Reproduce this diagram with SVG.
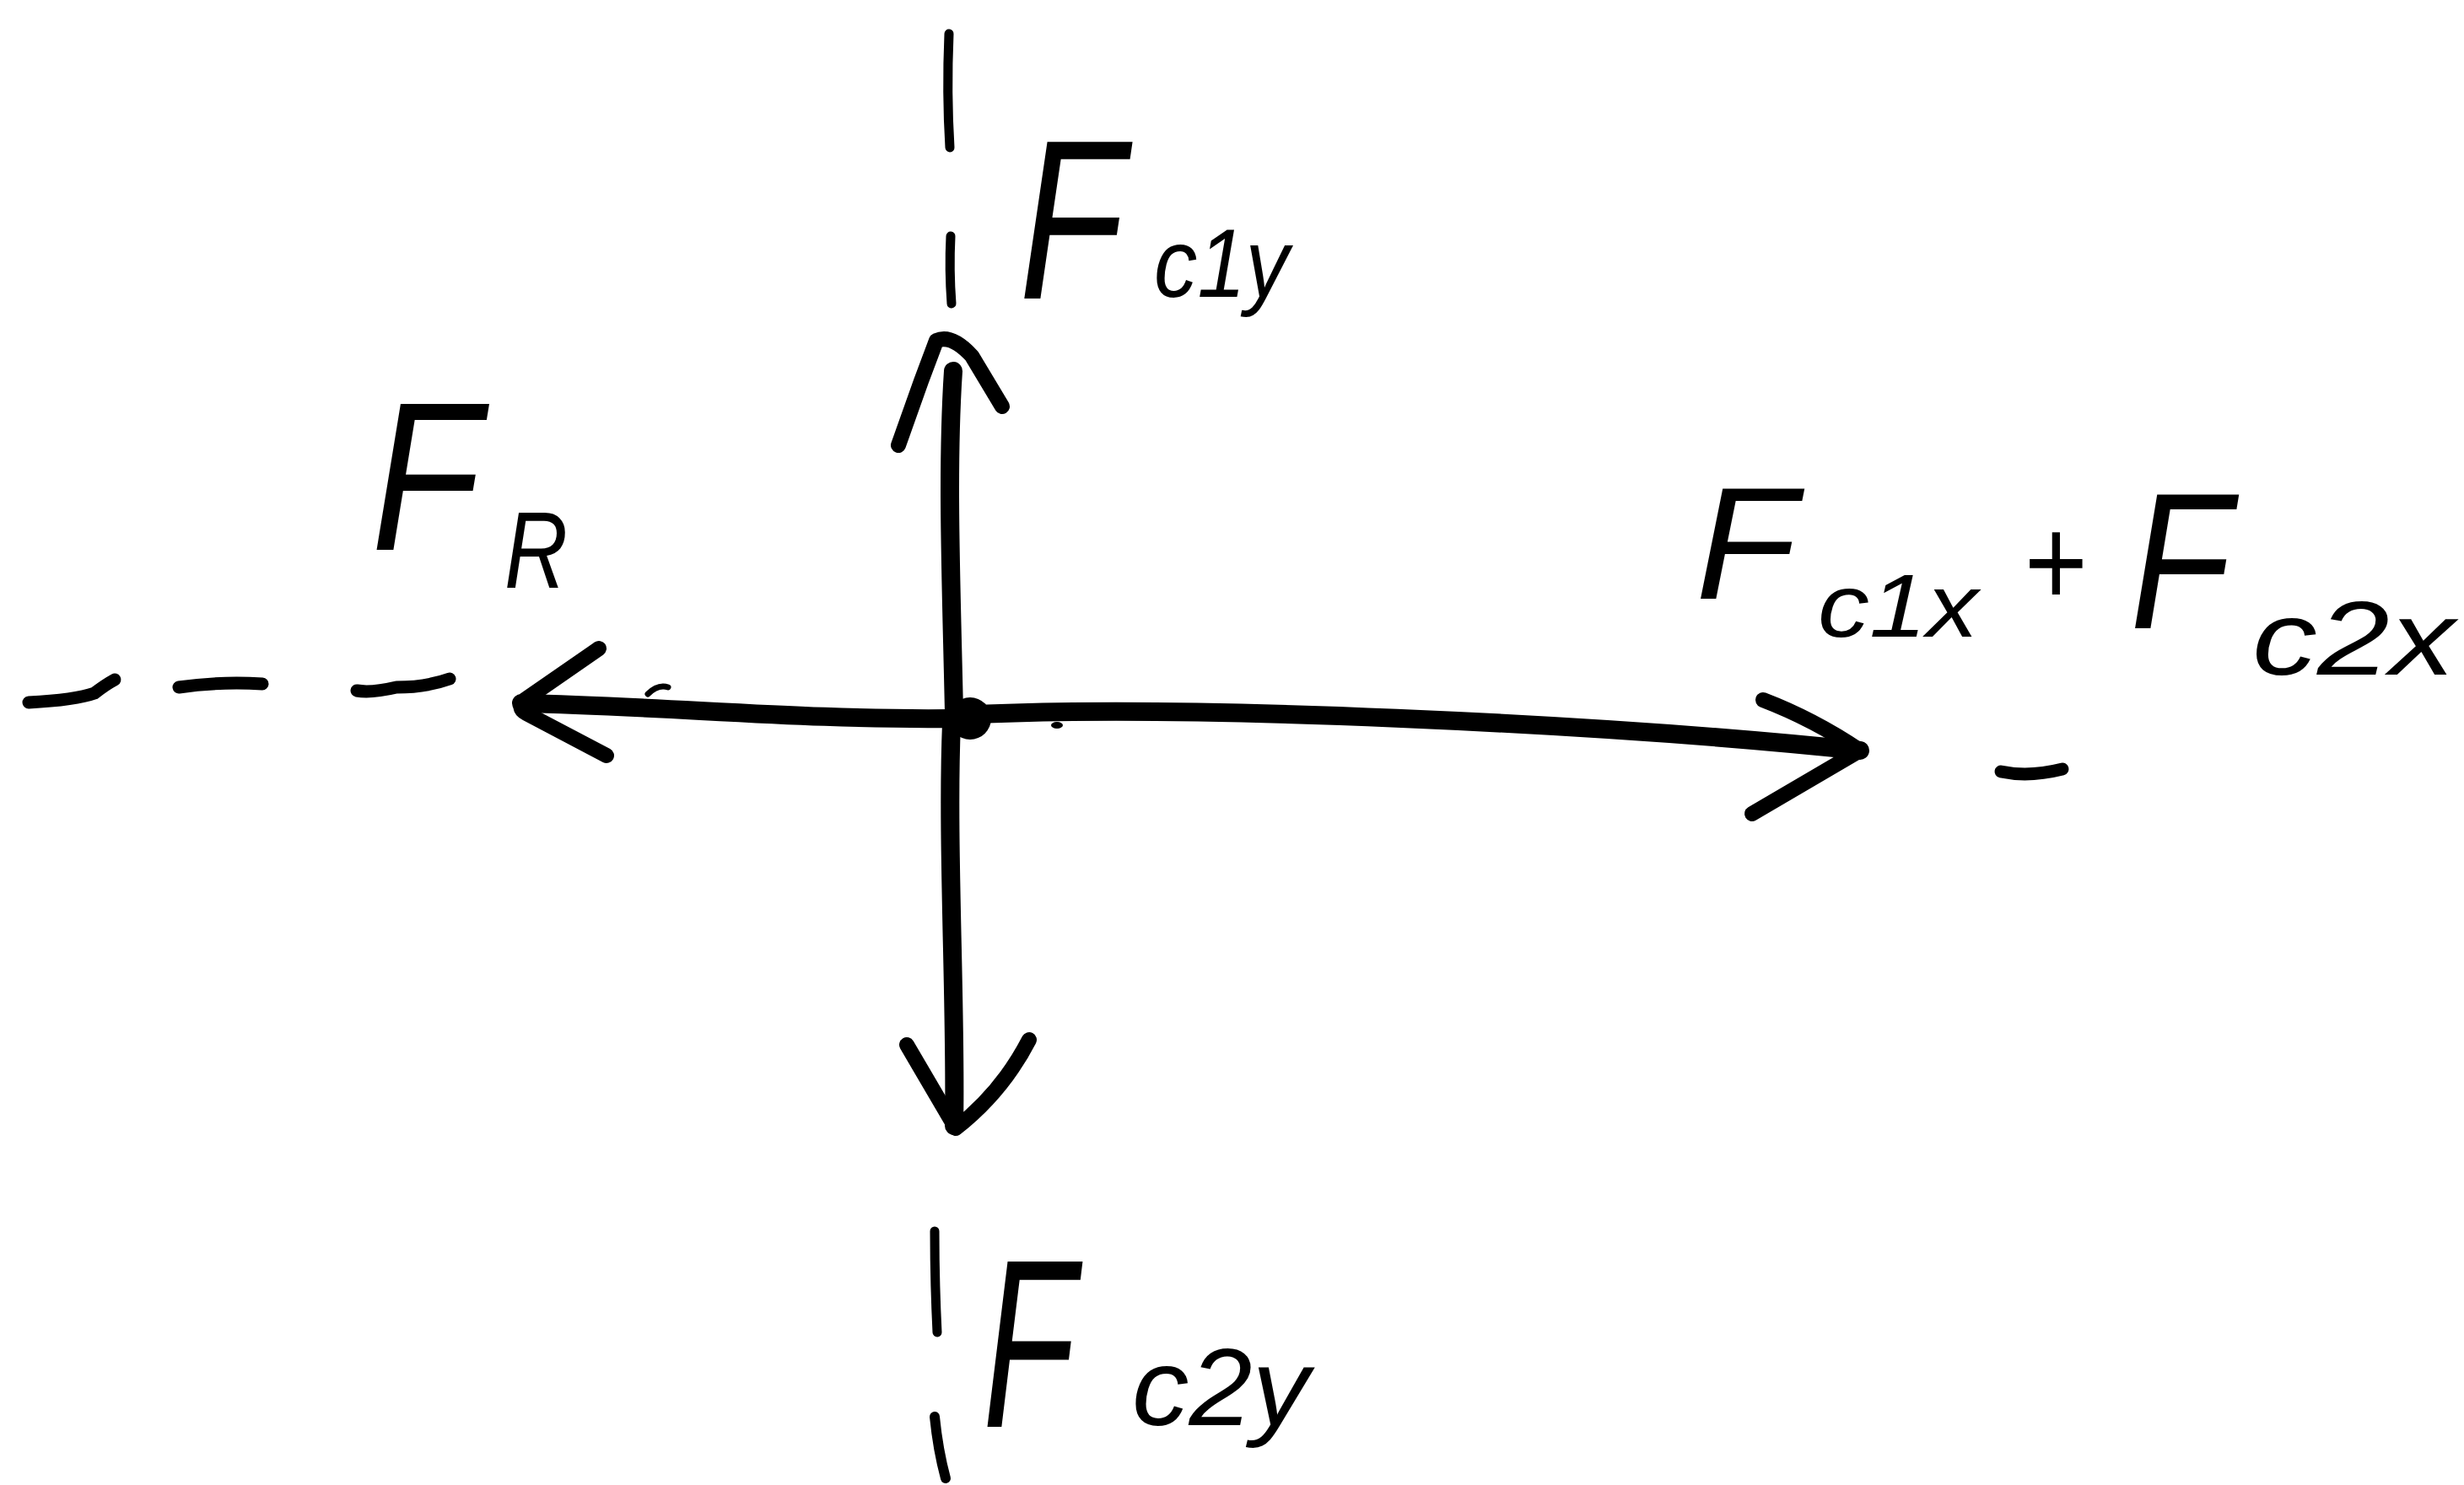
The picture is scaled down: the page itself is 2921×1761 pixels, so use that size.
<svg xmlns="http://www.w3.org/2000/svg" width="2921" height="1761" viewBox="0 0 2921 1761">
<style>
.ln{fill:none;stroke:#000;stroke-linecap:round;stroke-linejoin:round}
.main{stroke-width:22}
.head{stroke-width:18}
.dash{stroke-width:15}
.lbl{font-family:"Liberation Sans",Arial,sans-serif;font-style:italic;fill:#000}
</style>
<rect width="2921" height="1761" fill="#fff"/>
<g id="connectors">
  <!-- up arrow -->
  <path class="ln main" d="M1131,845 C1128,700 1122,560 1130,440"/>
  <path class="ln head" d="M1065,528 L1092,452 L1110,404 Q1128,396 1152,422 L1188,482"/>
  <!-- down arrow -->
  <path class="ln main" d="M1128,858 C1122,1000 1134,1200 1131,1335"/>
  <path class="ln head" d="M1075,1239 L1133,1338 Q1188,1295 1220,1233"/>
  <!-- left arrow -->
  <path class="ln main" d="M1131,852 C950,854 800,838 618,834"/>
  <path class="ln head" d="M710,769 L622,830 Q612,840 624,846 L719,896"/>
  <path class="ln" stroke-width="7" d="M768,823 Q780,811 792,815"/>
  <!-- right arrow -->
  <path class="ln main" d="M1140,848 C1400,834 1900,858 2205,890"/>
  <path class="ln head" d="M2090,830 Q2150,853 2205,890 L2077,965"/>
  <circle cx="1150" cy="852" r="25" fill="#000"/>
  <ellipse cx="1253" cy="860" rx="7" ry="4" fill="#000"/>
  <!-- dashed extensions -->
  <path class="ln" stroke-width="11" d="M1125,40 Q1122,110 1126,175"/>
  <path class="ln" stroke-width="11" d="M1127,280 Q1125,320 1128,360"/>
  <path class="ln" stroke-width="11" d="M1108,1460 Q1108,1520 1111,1580"/>
  <path class="ln" stroke-width="12" d="M1108,1680 Q1112,1720 1121,1753"/>
  <path class="ln dash" d="M34,833 Q90,830 112,822 Q125,812 136,806"/>
  <path class="ln dash" d="M212,815 Q260,808 311,811"/>
  <path class="ln dash" d="M423,819 Q440,822 470,815 Q505,815 533,805"/>
  <path class="ln dash" d="M2372,915 Q2405,922 2445,912"/>
</g>
<g id="label-Fc1y">
  <text class="lbl" x="1208" y="354" font-size="270" textLength="125" lengthAdjust="spacingAndGlyphs">F</text>
  <text class="lbl" x="1368" y="352" font-size="115" textLength="160" lengthAdjust="spacingAndGlyphs">c1y</text>
</g>
<g id="label-FR">
  <text class="lbl" x="440" y="652" font-size="250" textLength="130" lengthAdjust="spacingAndGlyphs">F</text>
  <text class="lbl" x="598" y="697" font-size="130" textLength="75" lengthAdjust="spacingAndGlyphs">R</text>
</g>
<g id="label-Fc1x-Fc2x">
  <text class="lbl" x="2010" y="710" font-size="190" textLength="120" lengthAdjust="spacingAndGlyphs">F</text>
  <text class="lbl" x="2155" y="755" font-size="105" textLength="190" lengthAdjust="spacingAndGlyphs">c1x</text>
  <text class="lbl" x="2398" y="718" font-size="150" textLength="75" lengthAdjust="spacingAndGlyphs">+</text>
  <text class="lbl" x="2525" y="745" font-size="230" textLength="120" lengthAdjust="spacingAndGlyphs">F</text>
  <text class="lbl" x="2670" y="800" font-size="125" textLength="240" lengthAdjust="spacingAndGlyphs">c2x</text>
</g>
<g id="label-Fc2y">
  <text class="lbl" x="1165" y="1692" font-size="285" textLength="110" lengthAdjust="spacingAndGlyphs">F</text>
  <text class="lbl" x="1342" y="1690" font-size="130" textLength="210" lengthAdjust="spacingAndGlyphs">c2y</text>
</g>
</svg>
